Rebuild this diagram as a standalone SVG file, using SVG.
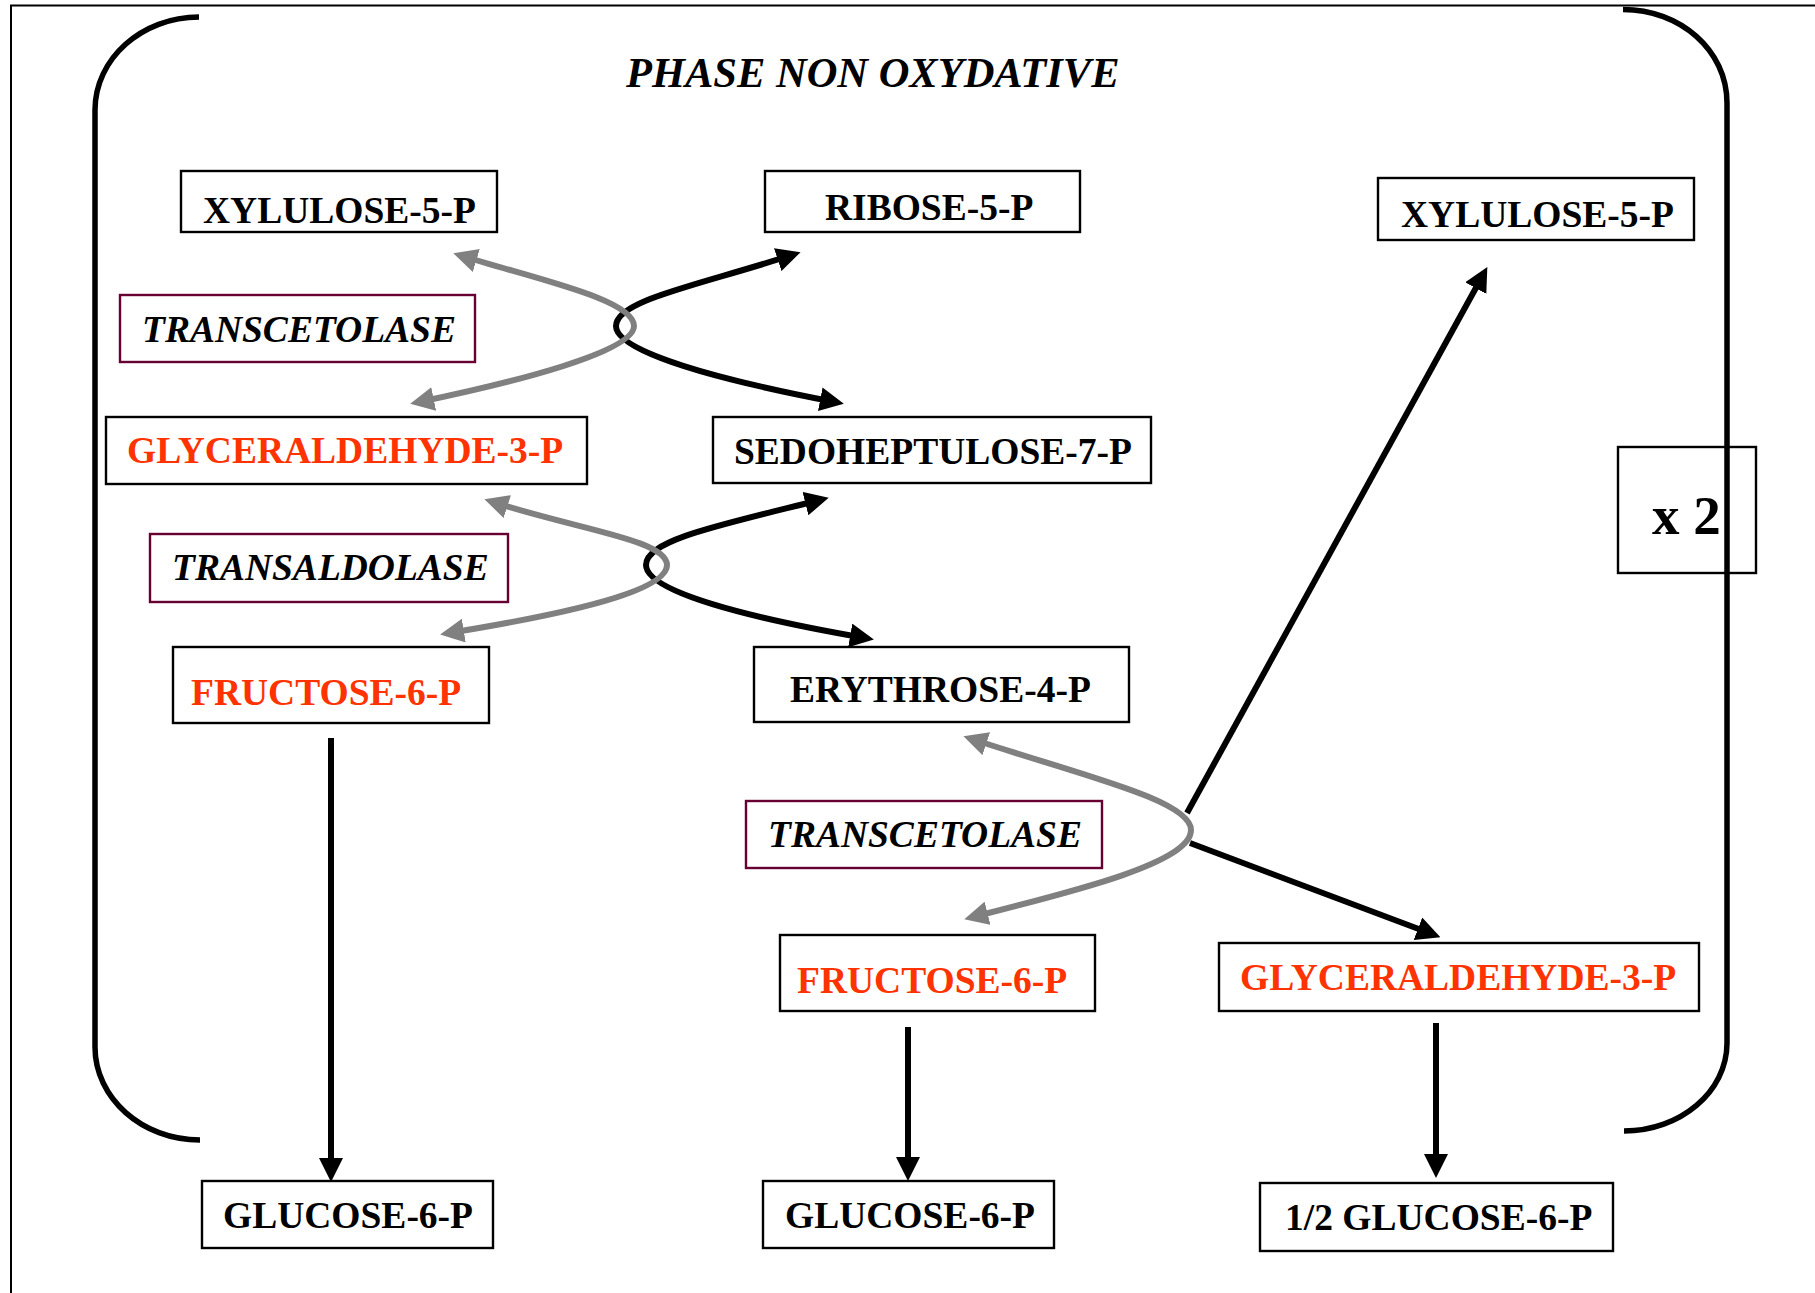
<svg xmlns="http://www.w3.org/2000/svg" width="1815" height="1293" viewBox="0 0 1815 1293">
  <defs>
    <style>
      .box { fill: #ffffff; stroke: #000000; stroke-width: 2.4; }
      .enz { fill: #ffffff; stroke: #660033; stroke-width: 2.4; }
      .lbl { font-family: "Liberation Serif", "Times New Roman", serif; font-weight: bold; font-size: 37.5px; fill: #000000; }
      .red { fill: #ff3300; }
      .ital { font-style: italic; }
      .blk { fill: none; stroke: #000000; stroke-width: 6; }
      .gry { fill: none; stroke: #808080; stroke-width: 6; }
      .bracket { fill: none; stroke: #000000; stroke-width: 5.5; }
    </style>
    <marker id="headBlack" viewBox="0 0 24 24" refX="15" refY="12" markerWidth="24" markerHeight="24" markerUnits="userSpaceOnUse" orient="auto-start-reverse">
      <path d="M0,0 L24,12 L0,24 z" fill="#000000"/>
    </marker>
    <marker id="headGray" viewBox="0 0 24 24" refX="15" refY="12" markerWidth="24" markerHeight="24" markerUnits="userSpaceOnUse" orient="auto-start-reverse">
      <path d="M0,0 L24,12 L0,24 z" fill="#808080"/>
    </marker>
  </defs>

  <rect x="0" y="0" width="1815" height="1293" fill="#ffffff"/>

  <!-- page frame -->
  <path d="M11,1293 L11,5.5 L1815,5.5" fill="none" stroke="#000000" stroke-width="2"/>

  <!-- brackets around the non-oxidative phase -->
  <g id="brackets">
    <path class="bracket" d="M199,17 C 141.8,17 95,58.8 95,110 L95,1047 C95,1098 141.8,1140 200,1140"/>
    <path class="bracket" d="M1623,9.5 C1680,9.5 1727,50 1727,103 L1727,1043 C1727,1092 1680,1131 1624,1131"/>
  </g>

  <g id="title">
    <text class="lbl ital" x="626" y="87" style="font-size:42.5px">PHASE NON OXYDATIVE</text>
  </g>

  <!-- connectors -->
  <g id="connectors">
    <!-- transcetolase (top) -->
    <path class="blk" d="M792,255 C700,285 616,300 616,326 C616,352 720,380 835,402" marker-start="url(#headBlack)" marker-end="url(#headBlack)"/>
    <path class="gry" d="M462,256 C540,280 634,300 634,326 C634,352 515,382 419,402" marker-start="url(#headGray)" marker-end="url(#headGray)"/>
    <!-- transaldolase -->
    <path class="blk" d="M820,500 C720,525 646,540 646,565 C646,592 750,618 865,638" marker-start="url(#headBlack)" marker-end="url(#headBlack)"/>
    <path class="gry" d="M493,502 C580,530 667,540 667,565 C667,592 560,615 449,633" marker-start="url(#headGray)" marker-end="url(#headGray)"/>
    <!-- transcetolase (bottom) -->
    <path class="gry" d="M972,739 C1080,775 1191,800 1191,830 C1191,862 1080,890 973,917" marker-start="url(#headGray)" marker-end="url(#headGray)"/>
    <path class="blk" d="M1187,813 L1483,275" stroke-width="5.5" marker-end="url(#headBlack)"/>
    <path class="blk" d="M1190,843 L1432,934" stroke-width="7" marker-end="url(#headBlack)"/>
    <!-- towards glucose-6-P -->
    <path class="blk" d="M331,738 L331,1173" stroke-width="6.5" marker-end="url(#headBlack)"/>
    <path class="blk" d="M908,1027 L908,1172" stroke-width="6.5" marker-end="url(#headBlack)"/>
    <path class="blk" d="M1436,1023 L1436,1169" stroke-width="6.5" marker-end="url(#headBlack)"/>
  </g>

  <!-- nodes -->
  <g id="xylulose-left">
    <rect class="box" x="181" y="171" width="316" height="61"/>
    <text class="lbl" x="203" y="223">XYLULOSE-5-P</text>
  </g>
  <g id="ribose">
    <rect class="box" x="765" y="171" width="315" height="61"/>
    <text class="lbl" x="825" y="220">RIBOSE-5-P</text>
  </g>
  <g id="xylulose-right">
    <rect class="box" x="1378" y="178" width="316" height="62"/>
    <text class="lbl" x="1401" y="227">XYLULOSE-5-P</text>
  </g>
  <g id="transcetolase-1">
    <rect class="enz" x="120" y="295" width="355" height="67"/>
    <text class="lbl ital" x="142" y="342">TRANSCETOLASE</text>
  </g>
  <g id="glyceraldehyde-1">
    <rect class="box" x="106" y="417" width="481" height="67"/>
    <text class="lbl red" x="127" y="463">GLYCERALDEHYDE-3-P</text>
  </g>
  <g id="sedoheptulose">
    <rect class="box" x="713" y="417" width="438" height="66"/>
    <text class="lbl" x="734" y="464">SEDOHEPTULOSE-7-P</text>
  </g>
  <g id="transaldolase">
    <rect class="enz" x="150" y="534" width="358" height="68"/>
    <text class="lbl ital" x="172" y="580">TRANSALDOLASE</text>
  </g>
  <g id="fructose-1">
    <rect class="box" x="173" y="647" width="316" height="76"/>
    <text class="lbl red" x="191" y="705">FRUCTOSE-6-P</text>
  </g>
  <g id="erythrose">
    <rect class="box" x="754" y="647" width="375" height="75"/>
    <text class="lbl" x="790" y="702">ERYTHROSE-4-P</text>
  </g>
  <g id="x2">
    <rect x="1618" y="447" width="138" height="126" fill="none" stroke="#000000" stroke-width="2.4"/>
    <text class="lbl" x="1652" y="534" style="font-size:55px">x 2</text>
  </g>
  <g id="transcetolase-2">
    <rect class="enz" x="746" y="801" width="356" height="67"/>
    <text class="lbl ital" x="768" y="847">TRANSCETOLASE</text>
  </g>
  <g id="fructose-2">
    <rect class="box" x="780" y="935" width="315" height="76"/>
    <text class="lbl red" x="797" y="993">FRUCTOSE-6-P</text>
  </g>
  <g id="glyceraldehyde-2">
    <rect class="box" x="1219" y="943" width="480" height="68"/>
    <text class="lbl red" x="1240" y="990">GLYCERALDEHYDE-3-P</text>
  </g>
  <g id="glucose-1">
    <rect class="box" x="202" y="1181" width="291" height="67"/>
    <text class="lbl" x="223" y="1228">GLUCOSE-6-P</text>
  </g>
  <g id="glucose-2">
    <rect class="box" x="763" y="1181" width="291" height="67"/>
    <text class="lbl" x="785" y="1228">GLUCOSE-6-P</text>
  </g>
  <g id="half-glucose">
    <rect class="box" x="1260" y="1183" width="353" height="68"/>
    <text class="lbl" x="1285" y="1230">1/2 GLUCOSE-6-P</text>
  </g>
</svg>
